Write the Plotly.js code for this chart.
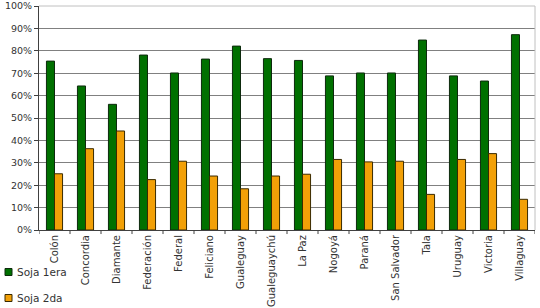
<!DOCTYPE html>
<html><head><meta charset="utf-8">
<script src="https://cdn.plot.ly/plotly-3.0.1.min.js"></script>
<style>body{margin:0;padding:0;background:#fff}#chart{width:540px;height:308px}</style>
</head><body><div id="chart"></div>
<script>
const categories = ["Colón","Concordia","Diamante","Federación","Federal","Feliciano","Gualeguay","Gualeguaychú","La Paz","Nogoyá","Paraná","San Salvador","Tala","Uruguay","Victoria","Villaguay"];
const soja1era = [0.754,0.643,0.561,0.781,0.701,0.763,0.821,0.765,0.757,0.688,0.701,0.701,0.848,0.688,0.665,0.872];
const soja2da = [0.251,0.363,0.442,0.225,0.307,0.241,0.184,0.241,0.249,0.315,0.304,0.307,0.159,0.315,0.341,0.137];
const yTicks = [0,0.1,0.2,0.3,0.4,0.5,0.6,0.7,0.8,0.9,1.0];
const seriesNames = ["Soja 1era","Soja 2da"];
const seriesColors = ["#007000","#f2a007"];
const seriesEdges = ["#0d2a0d","#3a2a00"];

const fam = "Verdana, 'DejaVu Sans', sans-serif";
const data = [
  {type:"bar", name:seriesNames[0], x:categories, y:soja1era,
   marker:{color:seriesColors[0], line:{color:seriesEdges[0], width:1}}},
  {type:"bar", name:seriesNames[1], x:categories, y:soja2da,
   marker:{color:seriesColors[1], line:{color:seriesEdges[1], width:1}}}
];
const W = 540, H = 308, ml = 39, mr = 5, mt = 6, mb = 78;
const pw = W - ml - mr, ph = H - mt - mb;
const px = v => (v - ml) / pw;           // pixel x -> paper
const py = v => (H - mb - v) / ph;       // pixel y -> paper
const layout = {
  width:W, height:H,
  margin:{l:ml, r:mr, t:mt, b:mb, autoexpand:false},
  paper_bgcolor:"#fff", plot_bgcolor:"#fff",
  barmode:"group", bargap:0.48, bargroupgap:0,
  font:{family:fam, size:10, color:"#333"},
  showlegend:false,
  xaxis:{type:"category", tickangle:-90, showgrid:false, showline:true, linecolor:"#404040", linewidth:1,
    ticks:"", automargin:false, tickfont:{family:fam, size:10, color:"#333"}, range:[-0.5, categories.length-0.5]},
  yaxis:{range:[0,1], tickvals:yTicks, tickformat:".0%", showgrid:true, gridcolor:"#808080", gridwidth:1,
    showline:true, linecolor:"#404040", linewidth:1, ticks:"outside", ticklen:4, tickcolor:"#404040",
    zeroline:false, automargin:false, tickfont:{family:fam, size:9.5, color:"#333"}},
  shapes:[
    {type:"line", xref:"paper", yref:"paper", x0:0, x1:1, y0:1, y1:1, line:{color:"#c0c0c0", width:1}},
    {type:"line", xref:"paper", yref:"paper", x0:1, x1:1, y0:0, y1:1, line:{color:"#c0c0c0", width:1}}
  ],
  annotations:[]
};
for (let i = 0; i <= categories.length; i++) {
  layout.shapes.push({type:"line", xref:"x", yref:"paper", x0:i-0.5, x1:i-0.5, y0:0, y1:-0.018, line:{color:"#404040", width:1}});
}
// legend drawn manually (bottom-left, stacked)
const legendY = [272, 298];
seriesNames.forEach((n, i) => {
  const cy = legendY[i];
  layout.shapes.push({type:"rect", xref:"paper", yref:"paper", x0:px(5), x1:px(12), y0:py(cy-3.5), y1:py(cy+3.5),
    fillcolor:seriesColors[i], line:{color:seriesEdges[i], width:1}});
  layout.annotations.push({xref:"paper", yref:"paper", x:px(15), y:py(cy), xanchor:"left", yanchor:"middle",
    text:n, showarrow:false, font:{family:fam, size:10.5, color:"#333"}});
});
Plotly.newPlot("chart", data, layout, {displayModeBar:false, staticPlot:true});
</script></body></html>
